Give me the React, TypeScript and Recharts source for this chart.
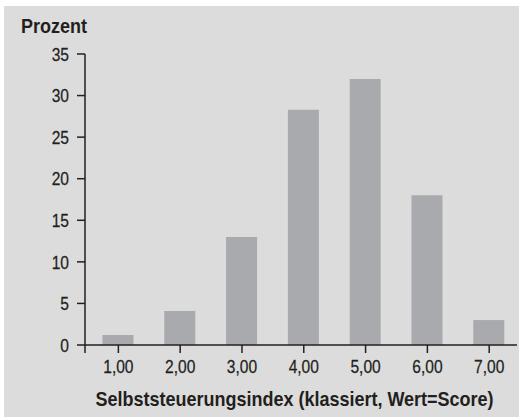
import { BarChart, Bar, XAxis, YAxis, Label } from "recharts";

const scores = [1, 2, 3, 4, 5, 6, 7];
const percents = [1.2, 4.1, 13.0, 28.3, 32.0, 18.0, 3.0];
const yTicks = [0, 5, 10, 15, 20, 25, 30, 35];
const xTicks = [0.46, 1, 2, 3, 4, 5, 6, 7];

const data = scores.map((score, i) => ({ score, prozent: percents[i] }));

const FONT = "'Liberation Sans', Arial, sans-serif";
const INK = "#231f20";
const SQUEEZE = 0.82;
const TITLE_SQUEEZE = 0.9;

function formatScore(v: number) {
  return Number.isInteger(v) ? v.toFixed(2).replace(".", ",") : "";
}

// narrow tick text: the original uses a condensed face
function XTick(props: any) {
  const { x, y, payload } = props;
  const txt = formatScore(payload.value);
  if (!txt) return null;
  return (
    <g transform={`translate(${x},${y}) scale(${SQUEEZE},1)`}>
      <text
        x={0}
        y={0}
        dy="0.71em"
        textAnchor="middle"
        fill={INK}
        stroke={INK}
        strokeWidth={0.25}
        fontSize={19}
        fontFamily={FONT}
      >
        {txt}
      </text>
    </g>
  );
}

function YTick(props: any) {
  const { x, y, payload } = props;
  return (
    <g transform={`translate(${x},${y}) scale(${SQUEEZE},1)`}>
      <text
        x={0}
        y={0}
        dy="0.355em"
        textAnchor="end"
        fill={INK}
        stroke={INK}
        strokeWidth={0.25}
        fontSize={19}
        fontFamily={FONT}
      >
        {payload.value}
      </text>
    </g>
  );
}

export default function App() {
  return (
    <div style={{ position: "relative", width: 519, height: 417, background: "#fff" }}>
      <style>{`body { margin: 0; }`}</style>
      <div
        style={{
          position: "absolute",
          left: 4,
          top: 6,
          width: 515,
          height: 411,
          background: "#dcdcdc",
        }}
      />
      <div style={{ position: "absolute", left: 0, top: 0 }}>
        <BarChart
          width={519}
          height={417}
          data={data}
          margin={{ top: 54, right: 2, left: 0, bottom: 0 }}
          style={{ fontFamily: FONT }}
        >
          <XAxis
            type="number"
            dataKey="score"
            domain={[0.46, 7.45]}
            ticks={xTicks}
            interval={0}
            allowDataOverflow
            height={72}
            tickSize={8}
            tickMargin={7}
            axisLine={{ stroke: INK, strokeWidth: 1.5 }}
            tickLine={{ stroke: INK, strokeWidth: 1.5 }}
            tick={XTick}
          >
            <Label
              content={({ viewBox }: any) => (
                <g transform={`translate(${viewBox.x + 209.5},${viewBox.y + 61}) scale(${TITLE_SQUEEZE},1)`}>
                  <text
                    x={0}
                    y={0}
                    textAnchor="middle"
                    fill={INK}
                    fontSize={20}
                    fontWeight={700}
                    fontFamily={FONT}
                  >
                    Selbststeuerungsindex (klassiert, Wert=Score)
                  </text>
                </g>
              )}
            />
          </XAxis>
          <YAxis
            type="number"
            domain={[0, 35]}
            ticks={yTicks}
            interval={0}
            width={85}
            tickSize={8}
            tickMargin={8}
            axisLine={{ stroke: INK, strokeWidth: 1.5 }}
            tickLine={{ stroke: INK, strokeWidth: 1.5 }}
            tick={YTick}
          >
            <Label
              content={() => (
                <g transform={`translate(21,33) scale(${TITLE_SQUEEZE},1)`}>
                  <text x={0} y={0} fill={INK} fontSize={20} fontWeight={700} fontFamily={FONT}>
                    Prozent
                  </text>
                </g>
              )}
            />
          </YAxis>
          <Bar dataKey="prozent" fill="#a9aaad" barSize={31} isAnimationActive={false} />
        </BarChart>
      </div>
    </div>
  );
}
